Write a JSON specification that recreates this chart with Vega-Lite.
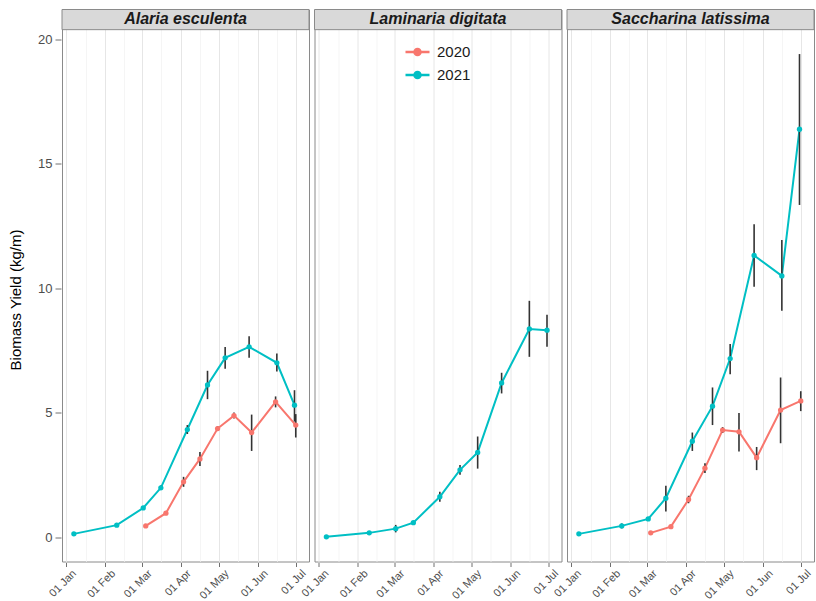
{
  "$schema": "https://vega.github.io/schema/vega-lite/v6.json",
  "padding": {"left": 8, "top": 8.5, "right": 0, "bottom": 1},
  "background": "white",
  "data": {"values": [
    {"species": "Alaria esculenta", "year": "2021", "date": "2021-01-07", "yield": 0.14, "lo": 0.10, "hi": 0.18},
    {"species": "Alaria esculenta", "year": "2021", "date": "2021-02-10", "yield": 0.49, "lo": 0.44, "hi": 0.54},
    {"species": "Alaria esculenta", "year": "2021", "date": "2021-03-02", "yield": 1.18, "lo": 1.12, "hi": 1.24},
    {"species": "Alaria esculenta", "year": "2021", "date": "2021-03-16", "yield": 1.99, "lo": 1.90, "hi": 2.08},
    {"species": "Alaria esculenta", "year": "2021", "date": "2021-04-06", "yield": 4.33, "lo": 4.15, "hi": 4.51},
    {"species": "Alaria esculenta", "year": "2021", "date": "2021-04-22", "yield": 6.12, "lo": 5.55, "hi": 6.69},
    {"species": "Alaria esculenta", "year": "2021", "date": "2021-05-06", "yield": 7.21, "lo": 6.77, "hi": 7.64},
    {"species": "Alaria esculenta", "year": "2021", "date": "2021-05-25", "yield": 7.65, "lo": 7.21, "hi": 8.08},
    {"species": "Alaria esculenta", "year": "2021", "date": "2021-06-16", "yield": 7.01, "lo": 6.66, "hi": 7.38},
    {"species": "Alaria esculenta", "year": "2021", "date": "2021-06-30", "yield": 5.31, "lo": 4.65, "hi": 5.91},
    {"species": "Alaria esculenta", "year": "2020", "date": "2020-03-04", "yield": 0.46, "lo": 0.42, "hi": 0.50},
    {"species": "Alaria esculenta", "year": "2020", "date": "2020-03-20", "yield": 0.97, "lo": 0.92, "hi": 1.02},
    {"species": "Alaria esculenta", "year": "2020", "date": "2020-04-03", "yield": 2.23, "lo": 2.03, "hi": 2.43},
    {"species": "Alaria esculenta", "year": "2020", "date": "2020-04-16", "yield": 3.15, "lo": 2.87, "hi": 3.43},
    {"species": "Alaria esculenta", "year": "2020", "date": "2020-04-30", "yield": 4.37, "lo": 4.27, "hi": 4.47},
    {"species": "Alaria esculenta", "year": "2020", "date": "2020-05-13", "yield": 4.89, "lo": 4.77, "hi": 5.01},
    {"species": "Alaria esculenta", "year": "2020", "date": "2020-05-27", "yield": 4.21, "lo": 3.47, "hi": 4.93},
    {"species": "Alaria esculenta", "year": "2020", "date": "2020-06-15", "yield": 5.44, "lo": 5.22, "hi": 5.66},
    {"species": "Alaria esculenta", "year": "2020", "date": "2020-07-01", "yield": 4.51, "lo": 4.01, "hi": 4.95},
    {"species": "Laminaria digitata", "year": "2021", "date": "2021-01-07", "yield": 0.02, "lo": -0.02, "hi": 0.06},
    {"species": "Laminaria digitata", "year": "2021", "date": "2021-02-10", "yield": 0.18, "lo": 0.14, "hi": 0.22},
    {"species": "Laminaria digitata", "year": "2021", "date": "2021-03-02", "yield": 0.35, "lo": 0.20, "hi": 0.50},
    {"species": "Laminaria digitata", "year": "2021", "date": "2021-03-16", "yield": 0.59, "lo": 0.54, "hi": 0.64},
    {"species": "Laminaria digitata", "year": "2021", "date": "2021-04-06", "yield": 1.63, "lo": 1.43, "hi": 1.83},
    {"species": "Laminaria digitata", "year": "2021", "date": "2021-04-22", "yield": 2.71, "lo": 2.51, "hi": 2.91},
    {"species": "Laminaria digitata", "year": "2021", "date": "2021-05-06", "yield": 3.41, "lo": 2.76, "hi": 4.05},
    {"species": "Laminaria digitata", "year": "2021", "date": "2021-05-25", "yield": 6.20, "lo": 5.78, "hi": 6.61},
    {"species": "Laminaria digitata", "year": "2021", "date": "2021-06-16", "yield": 8.37, "lo": 7.25, "hi": 9.50},
    {"species": "Laminaria digitata", "year": "2021", "date": "2021-06-30", "yield": 8.32, "lo": 7.66, "hi": 8.94},
    {"species": "Saccharina latissima", "year": "2021", "date": "2021-01-07", "yield": 0.14, "lo": 0.10, "hi": 0.18},
    {"species": "Saccharina latissima", "year": "2021", "date": "2021-02-10", "yield": 0.46, "lo": 0.36, "hi": 0.56},
    {"species": "Saccharina latissima", "year": "2021", "date": "2021-03-02", "yield": 0.74, "lo": 0.68, "hi": 0.80},
    {"species": "Saccharina latissima", "year": "2021", "date": "2021-03-16", "yield": 1.57, "lo": 1.04, "hi": 2.07},
    {"species": "Saccharina latissima", "year": "2021", "date": "2021-04-06", "yield": 3.86, "lo": 3.47, "hi": 4.21},
    {"species": "Saccharina latissima", "year": "2021", "date": "2021-04-22", "yield": 5.27, "lo": 4.51, "hi": 6.02},
    {"species": "Saccharina latissima", "year": "2021", "date": "2021-05-06", "yield": 7.18, "lo": 6.55, "hi": 7.77},
    {"species": "Saccharina latissima", "year": "2021", "date": "2021-05-25", "yield": 11.32, "lo": 10.06, "hi": 12.58},
    {"species": "Saccharina latissima", "year": "2021", "date": "2021-06-16", "yield": 10.50, "lo": 9.10, "hi": 11.94},
    {"species": "Saccharina latissima", "year": "2021", "date": "2021-06-30", "yield": 16.39, "lo": 13.35, "hi": 19.41},
    {"species": "Saccharina latissima", "year": "2020", "date": "2020-03-04", "yield": 0.18, "lo": 0.14, "hi": 0.22},
    {"species": "Saccharina latissima", "year": "2020", "date": "2020-03-20", "yield": 0.43, "lo": 0.38, "hi": 0.48},
    {"species": "Saccharina latissima", "year": "2020", "date": "2020-04-03", "yield": 1.52, "lo": 1.37, "hi": 1.67},
    {"species": "Saccharina latissima", "year": "2020", "date": "2020-04-16", "yield": 2.78, "lo": 2.58, "hi": 2.98},
    {"species": "Saccharina latissima", "year": "2020", "date": "2020-04-30", "yield": 4.31, "lo": 4.19, "hi": 4.43},
    {"species": "Saccharina latissima", "year": "2020", "date": "2020-05-13", "yield": 4.24, "lo": 3.45, "hi": 4.99},
    {"species": "Saccharina latissima", "year": "2020", "date": "2020-05-27", "yield": 3.20, "lo": 2.70, "hi": 3.63},
    {"species": "Saccharina latissima", "year": "2020", "date": "2020-06-15", "yield": 5.11, "lo": 3.78, "hi": 6.42},
    {"species": "Saccharina latissima", "year": "2020", "date": "2020-07-01", "yield": 5.48, "lo": 5.07, "hi": 5.87}
  ]},
  "facet": {"column": {"field": "species", "type": "nominal", "header": {"title": null, "labels": false}}},
  "spacing": {"column": 3.5},
  "spec": {
    "width": 247,
    "height": 552,
    "layer": [
      {
        "transform": [{"aggregate": [{"op": "count", "as": "n"}], "groupby": ["species"]}],
        "mark": {"type": "rect", "fill": "#d9d9d9", "stroke": "#8a8a8a", "strokeWidth": 1},
        "encoding": {
          "y": {"datum": 20.39, "type": "quantitative", "scale": {"domain": [-0.97, 21.2], "nice": false, "zero": false},
            "axis": {
              "title": "Biomass Yield (kg/m)", "titleFontSize": 15, "titleFontWeight": "normal", "titleColor": "#000000", "titlePadding": 14, "titleY": 290,
              "values": [0, 2.5, 5, 7.5, 10, 12.5, 15, 17.5, 20], "format": "d",
              "labelExpr": "datum.value % 5 == 0 ? datum.label : ''",
              "labelFontSize": 13, "labelColor": "#4d4d4d", "labelPadding": 3,
              "domain": false, "tickSize": 6, "tickColor": "#707070",
              "tickOpacity": {"condition": {"test": "datum.value % 5 == 0", "value": 1}, "value": 0},
              "gridColor": {"condition": {"test": "datum.value % 5 == 0", "value": "#e6e6e6"}, "value": "#f1f1f1"},
              "gridWidth": {"condition": {"test": "datum.value % 5 == 0", "value": 1}, "value": 0.7}
            }},
          "y2": {"datum": 21.2}
        }
      },
      {
        "transform": [{"aggregate": [{"op": "count", "as": "n"}], "groupby": ["species"]}],
        "mark": {"type": "text", "font": "Liberation Sans", "fontSize": 16, "fontStyle": "italic", "fontWeight": "bold", "color": "#1a1a1a", "baseline": "middle", "align": "center"},
        "encoding": {
          "y": {"datum": 20.8, "type": "quantitative", "scale": {"domain": [-0.97, 21.2], "nice": false, "zero": false},
            "axis": {
              "title": "Biomass Yield (kg/m)", "titleFontSize": 15, "titleFontWeight": "normal", "titleColor": "#000000", "titlePadding": 14, "titleY": 290,
              "values": [0, 2.5, 5, 7.5, 10, 12.5, 15, 17.5, 20], "format": "d",
              "labelExpr": "datum.value % 5 == 0 ? datum.label : ''",
              "labelFontSize": 13, "labelColor": "#4d4d4d", "labelPadding": 3,
              "domain": false, "tickSize": 6, "tickColor": "#707070",
              "tickOpacity": {"condition": {"test": "datum.value % 5 == 0", "value": 1}, "value": 0},
              "gridColor": {"condition": {"test": "datum.value % 5 == 0", "value": "#e6e6e6"}, "value": "#f1f1f1"},
              "gridWidth": {"condition": {"test": "datum.value % 5 == 0", "value": 1}, "value": 0.7}
            }},
          "text": {"field": "species", "type": "nominal"}
        }
      },
      {
        "mark": {"type": "line", "strokeWidth": 2},
        "encoding": {
          "x": {
            "field": "date", "type": "temporal", "timeUnit": "utcmonthdate",
            "scale": {"domain": [{"year": 2011, "month": 12, "date": 28, "hours": 14, "utc": true}, {"year": 2012, "month": 7, "date": 11, "hours": 12, "utc": true}], "nice": false},
            "axis": {
              "title": null,
              "values": [
                {"year": 2012, "month": 1, "date": 1, "utc": true},
                {"year": 2012, "month": 1, "date": 16, "hours": 12, "utc": true},
                {"year": 2012, "month": 2, "date": 1, "utc": true},
                {"year": 2012, "month": 2, "date": 15, "hours": 12, "utc": true},
                {"year": 2012, "month": 3, "date": 1, "utc": true},
                {"year": 2012, "month": 3, "date": 16, "hours": 12, "utc": true},
                {"year": 2012, "month": 4, "date": 1, "utc": true},
                {"year": 2012, "month": 4, "date": 16, "utc": true},
                {"year": 2012, "month": 5, "date": 1, "utc": true},
                {"year": 2012, "month": 5, "date": 16, "hours": 12, "utc": true},
                {"year": 2012, "month": 6, "date": 1, "utc": true},
                {"year": 2012, "month": 6, "date": 16, "utc": true},
                {"year": 2012, "month": 7, "date": 1, "utc": true}
              ],
              "labelExpr": "utcdate(datum.value) == 1 && utchours(datum.value) == 0 ? utcFormat(datum.value, '%d %b') : ''",
              "labelAngle": -45, "labelAlign": "right", "labelBaseline": "middle",
              "labelOffset": 8, "labelPadding": 5, "labelFontSize": 11, "labelColor": "#4d4d4d",
              "labelOverlap": false, "labelFlush": false, "labelBound": false,
              "domain": false, "tickSize": 4, "tickColor": "#707070", "tickWidth": 1,
              "tickOpacity": {"condition": {"test": "utcdate(datum.value) == 1 && utchours(datum.value) == 0", "value": 1}, "value": 0},
              "gridColor": {"condition": {"test": "utcdate(datum.value) == 1 && utchours(datum.value) == 0", "value": "#e6e6e6"}, "value": "#f1f1f1"},
              "gridWidth": {"condition": {"test": "utcdate(datum.value) == 1 && utchours(datum.value) == 0", "value": 1}, "value": 0.7}
            }
          },
          "y": {
            "field": "yield", "type": "quantitative",
            "scale": {"domain": [-0.97, 21.2], "nice": false, "zero": false},
            "axis": {
              "title": "Biomass Yield (kg/m)", "titleFontSize": 15, "titleFontWeight": "normal", "titleColor": "#000000", "titlePadding": 14, "titleY": 290,
              "values": [0, 2.5, 5, 7.5, 10, 12.5, 15, 17.5, 20], "format": "d",
              "labelExpr": "datum.value % 5 == 0 ? datum.label : ''",
              "labelFontSize": 13, "labelColor": "#4d4d4d", "labelPadding": 3,
              "domain": false, "tickSize": 6, "tickColor": "#707070",
              "tickOpacity": {"condition": {"test": "datum.value % 5 == 0", "value": 1}, "value": 0},
              "gridColor": {"condition": {"test": "datum.value % 5 == 0", "value": "#e6e6e6"}, "value": "#f1f1f1"},
              "gridWidth": {"condition": {"test": "datum.value % 5 == 0", "value": 1}, "value": 0.7}
            }
          },
          "color": {
            "field": "year", "type": "nominal",
            "scale": {"domain": ["2020", "2021"], "range": ["#F8766D", "#00BFC4"]},
            "legend": {
              "orient": "none", "legendX": 348, "legendY": 35, "title": null, "padding": 0,
              "symbolType": "M-2,0H2M-0.5,0A0.5,0.5,0,1,1,0.5,0A0.5,0.5,0,1,1,-0.5,0Z",
              "symbolSize": 144, "symbolStrokeWidth": 2.5,
              "labelFontSize": 15, "labelColor": "#1a1a1a", "labelOffset": 12, "rowPadding": 6,
              "encode": {"symbols": {"update": {"fill": {"scale": "color", "field": "value"}, "stroke": {"scale": "color", "field": "value"}, "opacity": {"value": 1}}}}
            }
          }
        }
      },
      {
        "mark": {"type": "rule", "color": "#333333", "strokeWidth": 1.6},
        "encoding": {
          "x": {
            "field": "date", "type": "temporal", "timeUnit": "utcmonthdate",
            "scale": {"domain": [{"year": 2011, "month": 12, "date": 28, "hours": 14, "utc": true}, {"year": 2012, "month": 7, "date": 11, "hours": 12, "utc": true}], "nice": false},
            "axis": {
              "title": null,
              "values": [
                {"year": 2012, "month": 1, "date": 1, "utc": true},
                {"year": 2012, "month": 1, "date": 16, "hours": 12, "utc": true},
                {"year": 2012, "month": 2, "date": 1, "utc": true},
                {"year": 2012, "month": 2, "date": 15, "hours": 12, "utc": true},
                {"year": 2012, "month": 3, "date": 1, "utc": true},
                {"year": 2012, "month": 3, "date": 16, "hours": 12, "utc": true},
                {"year": 2012, "month": 4, "date": 1, "utc": true},
                {"year": 2012, "month": 4, "date": 16, "utc": true},
                {"year": 2012, "month": 5, "date": 1, "utc": true},
                {"year": 2012, "month": 5, "date": 16, "hours": 12, "utc": true},
                {"year": 2012, "month": 6, "date": 1, "utc": true},
                {"year": 2012, "month": 6, "date": 16, "utc": true},
                {"year": 2012, "month": 7, "date": 1, "utc": true}
              ],
              "labelExpr": "utcdate(datum.value) == 1 && utchours(datum.value) == 0 ? utcFormat(datum.value, '%d %b') : ''",
              "labelAngle": -45, "labelAlign": "right", "labelBaseline": "middle",
              "labelOffset": 8, "labelPadding": 5, "labelFontSize": 11, "labelColor": "#4d4d4d",
              "labelOverlap": false, "labelFlush": false, "labelBound": false,
              "domain": false, "tickSize": 4, "tickColor": "#707070", "tickWidth": 1,
              "tickOpacity": {"condition": {"test": "utcdate(datum.value) == 1 && utchours(datum.value) == 0", "value": 1}, "value": 0},
              "gridColor": {"condition": {"test": "utcdate(datum.value) == 1 && utchours(datum.value) == 0", "value": "#e6e6e6"}, "value": "#f1f1f1"},
              "gridWidth": {"condition": {"test": "utcdate(datum.value) == 1 && utchours(datum.value) == 0", "value": 1}, "value": 0.7}
            }
          },
          "y": {
            "field": "lo", "type": "quantitative",
            "scale": {"domain": [-0.97, 21.2], "nice": false, "zero": false},
            "axis": {
              "title": "Biomass Yield (kg/m)", "titleFontSize": 15, "titleFontWeight": "normal", "titleColor": "#000000", "titlePadding": 14, "titleY": 290,
              "values": [0, 2.5, 5, 7.5, 10, 12.5, 15, 17.5, 20], "format": "d",
              "labelExpr": "datum.value % 5 == 0 ? datum.label : ''",
              "labelFontSize": 13, "labelColor": "#4d4d4d", "labelPadding": 3,
              "domain": false, "tickSize": 6, "tickColor": "#707070",
              "tickOpacity": {"condition": {"test": "datum.value % 5 == 0", "value": 1}, "value": 0},
              "gridColor": {"condition": {"test": "datum.value % 5 == 0", "value": "#e6e6e6"}, "value": "#f1f1f1"},
              "gridWidth": {"condition": {"test": "datum.value % 5 == 0", "value": 1}, "value": 0.7}
            }
          },
          "y2": {"field": "hi"}
        }
      },
      {
        "mark": {"type": "point", "filled": true, "size": 28, "opacity": 1},
        "encoding": {
          "x": {
            "field": "date", "type": "temporal", "timeUnit": "utcmonthdate",
            "scale": {"domain": [{"year": 2011, "month": 12, "date": 28, "hours": 14, "utc": true}, {"year": 2012, "month": 7, "date": 11, "hours": 12, "utc": true}], "nice": false},
            "axis": {
              "title": null,
              "values": [
                {"year": 2012, "month": 1, "date": 1, "utc": true},
                {"year": 2012, "month": 1, "date": 16, "hours": 12, "utc": true},
                {"year": 2012, "month": 2, "date": 1, "utc": true},
                {"year": 2012, "month": 2, "date": 15, "hours": 12, "utc": true},
                {"year": 2012, "month": 3, "date": 1, "utc": true},
                {"year": 2012, "month": 3, "date": 16, "hours": 12, "utc": true},
                {"year": 2012, "month": 4, "date": 1, "utc": true},
                {"year": 2012, "month": 4, "date": 16, "utc": true},
                {"year": 2012, "month": 5, "date": 1, "utc": true},
                {"year": 2012, "month": 5, "date": 16, "hours": 12, "utc": true},
                {"year": 2012, "month": 6, "date": 1, "utc": true},
                {"year": 2012, "month": 6, "date": 16, "utc": true},
                {"year": 2012, "month": 7, "date": 1, "utc": true}
              ],
              "labelExpr": "utcdate(datum.value) == 1 && utchours(datum.value) == 0 ? utcFormat(datum.value, '%d %b') : ''",
              "labelAngle": -45, "labelAlign": "right", "labelBaseline": "middle",
              "labelOffset": 8, "labelPadding": 5, "labelFontSize": 11, "labelColor": "#4d4d4d",
              "labelOverlap": false, "labelFlush": false, "labelBound": false,
              "domain": false, "tickSize": 4, "tickColor": "#707070", "tickWidth": 1,
              "tickOpacity": {"condition": {"test": "utcdate(datum.value) == 1 && utchours(datum.value) == 0", "value": 1}, "value": 0},
              "gridColor": {"condition": {"test": "utcdate(datum.value) == 1 && utchours(datum.value) == 0", "value": "#e6e6e6"}, "value": "#f1f1f1"},
              "gridWidth": {"condition": {"test": "utcdate(datum.value) == 1 && utchours(datum.value) == 0", "value": 1}, "value": 0.7}
            }
          },
          "y": {
            "field": "yield", "type": "quantitative",
            "scale": {"domain": [-0.97, 21.2], "nice": false, "zero": false},
            "axis": {
              "title": "Biomass Yield (kg/m)", "titleFontSize": 15, "titleFontWeight": "normal", "titleColor": "#000000", "titlePadding": 14, "titleY": 290,
              "values": [0, 2.5, 5, 7.5, 10, 12.5, 15, 17.5, 20], "format": "d",
              "labelExpr": "datum.value % 5 == 0 ? datum.label : ''",
              "labelFontSize": 13, "labelColor": "#4d4d4d", "labelPadding": 3,
              "domain": false, "tickSize": 6, "tickColor": "#707070",
              "tickOpacity": {"condition": {"test": "datum.value % 5 == 0", "value": 1}, "value": 0},
              "gridColor": {"condition": {"test": "datum.value % 5 == 0", "value": "#e6e6e6"}, "value": "#f1f1f1"},
              "gridWidth": {"condition": {"test": "datum.value % 5 == 0", "value": 1}, "value": 0.7}
            }
          },
          "color": {
            "field": "year", "type": "nominal",
            "scale": {"domain": ["2020", "2021"], "range": ["#F8766D", "#00BFC4"]},
            "legend": {
              "orient": "none", "legendX": 348, "legendY": 35, "title": null, "padding": 0,
              "symbolType": "M-2,0H2M-0.5,0A0.5,0.5,0,1,1,0.5,0A0.5,0.5,0,1,1,-0.5,0Z",
              "symbolSize": 144, "symbolStrokeWidth": 2.5,
              "labelFontSize": 15, "labelColor": "#1a1a1a", "labelOffset": 12, "rowPadding": 6,
              "encode": {"symbols": {"update": {"fill": {"scale": "color", "field": "value"}, "stroke": {"scale": "color", "field": "value"}, "opacity": {"value": 1}}}}
            }
          }
        }
      }
    ]
  },
  "config": {
    "font": "Liberation Sans",
    "view": {"stroke": "#8a8a8a", "strokeWidth": 1},
    "axis": {"labelFont": "Liberation Sans", "titleFont": "Liberation Sans"},
    "legend": {"labelFont": "Liberation Sans"}
  }
}
